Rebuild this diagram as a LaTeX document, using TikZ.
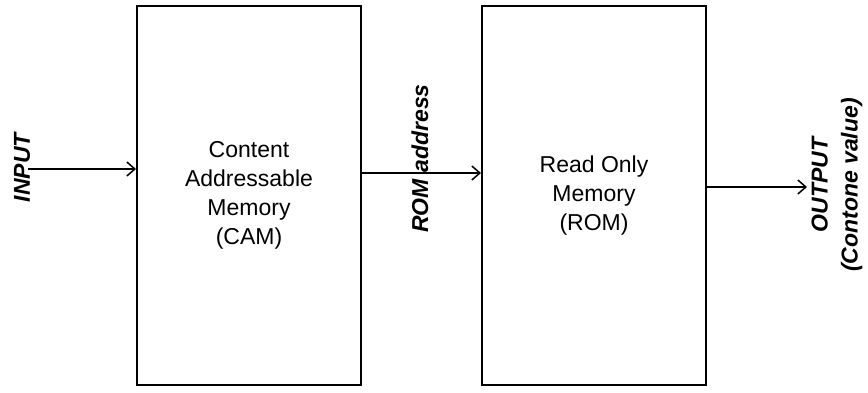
\documentclass[tikz,border=0pt]{standalone}
\usepackage{fontspec}
\setmainfont{Liberation Sans}
\usetikzlibrary{arrows.meta}

\begin{document}
\begin{tikzpicture}[x=0.5pt,y=0.5pt,
    block/.style={draw, line width=1pt, minimum width=112pt, minimum height=189.5pt,
      align=center, font=\fontsize{11.5}{14.5}\selectfont},
    lbl/.style={rotate=90, align=center, inner sep=0pt,
      font=\fontsize{11.5}{15}\selectfont\bfseries\itshape},
    arr/.style={-{Straight Barb[length=4pt,width=7pt]}, line width=0.75pt}]
    \useasboundingbox (0,0) rectangle (868,392);
    \node[block] (cam) at (249,196.5) {Content\\Addressable\\Memory\\(CAM)};
    \node[block] (rom) at (594,196.5) {Read Only\\Memory\\(ROM)};
    \node[lbl] (input) at (22,224.5) {INPUT};
    \node[lbl] (romaddr) at (420,233.5) {ROM address};
    \node[lbl] (output) at (837,207) {OUTPUT\\(Contone value)};
    \coordinate (inStart) at (28,223);
    \coordinate (outEnd) at (807,205);
    \draw[arr] (inStart) -- (inStart -| cam.west);
    \draw[arr] ([yshift=11.25pt]cam.east) -- ([yshift=11.25pt]rom.west);
    \draw[arr] (rom.east |- outEnd) -- (outEnd);
\end{tikzpicture}
\end{document}
